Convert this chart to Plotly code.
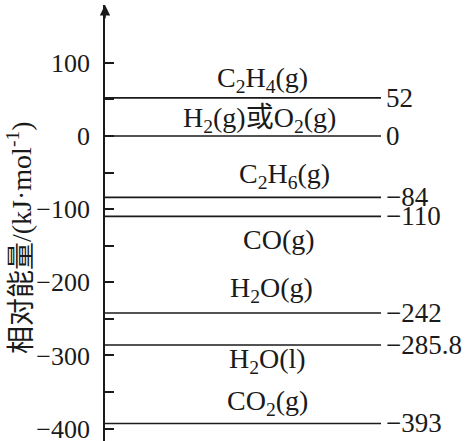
import plotly.graph_objects as go

# ---- data ----
species = ["C<sub>2</sub>H<sub>4</sub>(g)", "H<sub>2</sub>(g)或O<sub>2</sub>(g)", "C<sub>2</sub>H<sub>6</sub>(g)",
           "CO(g)", "H<sub>2</sub>O(g)", "H<sub>2</sub>O(l)", "CO<sub>2</sub>(g)"]
energies = [52, 0, -84, -110, -242, -285.8, -393]
value_labels = ["52", "0", "−84", "−110", "−242", "−285.8", "−393"]
tick_values = [100, 0, -100, -200, -300, -400]
minor_tick_values = [50, -50, -150, -250, -350]
y_title = "相对能量/(kJ·mol<sup>-1</sup>)"

# ---- layout helpers (positions / styles) ----
label_x = [0.569, 0.56, 0.65, 0.63, 0.605, 0.59, 0.59]
label_shift = [18, 16, 22, -23, 23, -15, 21]
W, H = 469, 441
ML, MR, MT, MB = 105, 0, 5, 0
line_end_px = 381
x_max = (W - ML - MR) / (line_end_px - ML)
y_range = [-417, 179]

SERIF = "Liberation Serif, Noto Sans CJK SC, serif"
INK = "#1a1a1a"

fig = go.Figure()
for e in energies:
    fig.add_trace(go.Scatter(x=[0, 1], y=[e, e], mode="lines",
                             line=dict(color=INK, width=1.6),
                             hoverinfo="skip", showlegend=False))

annotations = []
for name, e, lx, sh in zip(species, energies, label_x, label_shift):
    annotations.append(dict(x=lx, y=e, xref="x", yref="y", text=name, showarrow=False,
                            yshift=sh, xanchor="center", yanchor="middle",
                            font=dict(family=SERIF, size=28, color=INK)))
for v, e in zip(value_labels, energies):
    annotations.append(dict(x=1, y=e, xref="x", yref="y", text=v, showarrow=False,
                            xanchor="left", yanchor="middle", xshift=3,
                            font=dict(family=SERIF, size=27, color=INK)))
# axis arrow
annotations.append(dict(x=0, y=y_range[1], ax=0, ay=y_range[1] - 20, xref="x", yref="y",
                        axref="x", ayref="y", text="", showarrow=True,
                        arrowhead=2, arrowsize=1.3, arrowwidth=1.6, arrowcolor=INK))
# y-axis title
annotations.append(dict(x=(20 - ML) / (W - ML - MR), y=1 - (238 - MT) / (H - MT - MB),
                        xref="paper", yref="paper", text=y_title, textangle=-90,
                        showarrow=False, xanchor="center", yanchor="middle",
                        font=dict(family=SERIF, size=28, color=INK)))

fig.update_layout(
    width=W, height=H,
    margin=dict(l=ML, r=MR, t=MT, b=MB, autoexpand=False),
    paper_bgcolor="white", plot_bgcolor="white",
    annotations=annotations,
    xaxis=dict(range=[0, x_max], visible=False, showgrid=False, zeroline=False),
    yaxis=dict(range=y_range, showgrid=False, zeroline=False, automargin=False,
               showline=True, linecolor=INK, linewidth=1.8,
               ticks="inside", ticklen=9, tickwidth=1.6, tickcolor=INK,
               tickvals=tick_values, ticktext=[str(t).replace("-", "−") for t in tick_values],
               ticklabelstandoff=8, ticklabeloverflow="allow",
               tickfont=dict(family=SERIF, size=26, color=INK),
               minor=dict(tickvals=minor_tick_values, ticks="inside", ticklen=9,
                          tickwidth=1.6, tickcolor=INK, showgrid=False)),
)

fig.write_html("out.html", config={"displayModeBar": False},
               post_script="document.body.style.margin='0';")
